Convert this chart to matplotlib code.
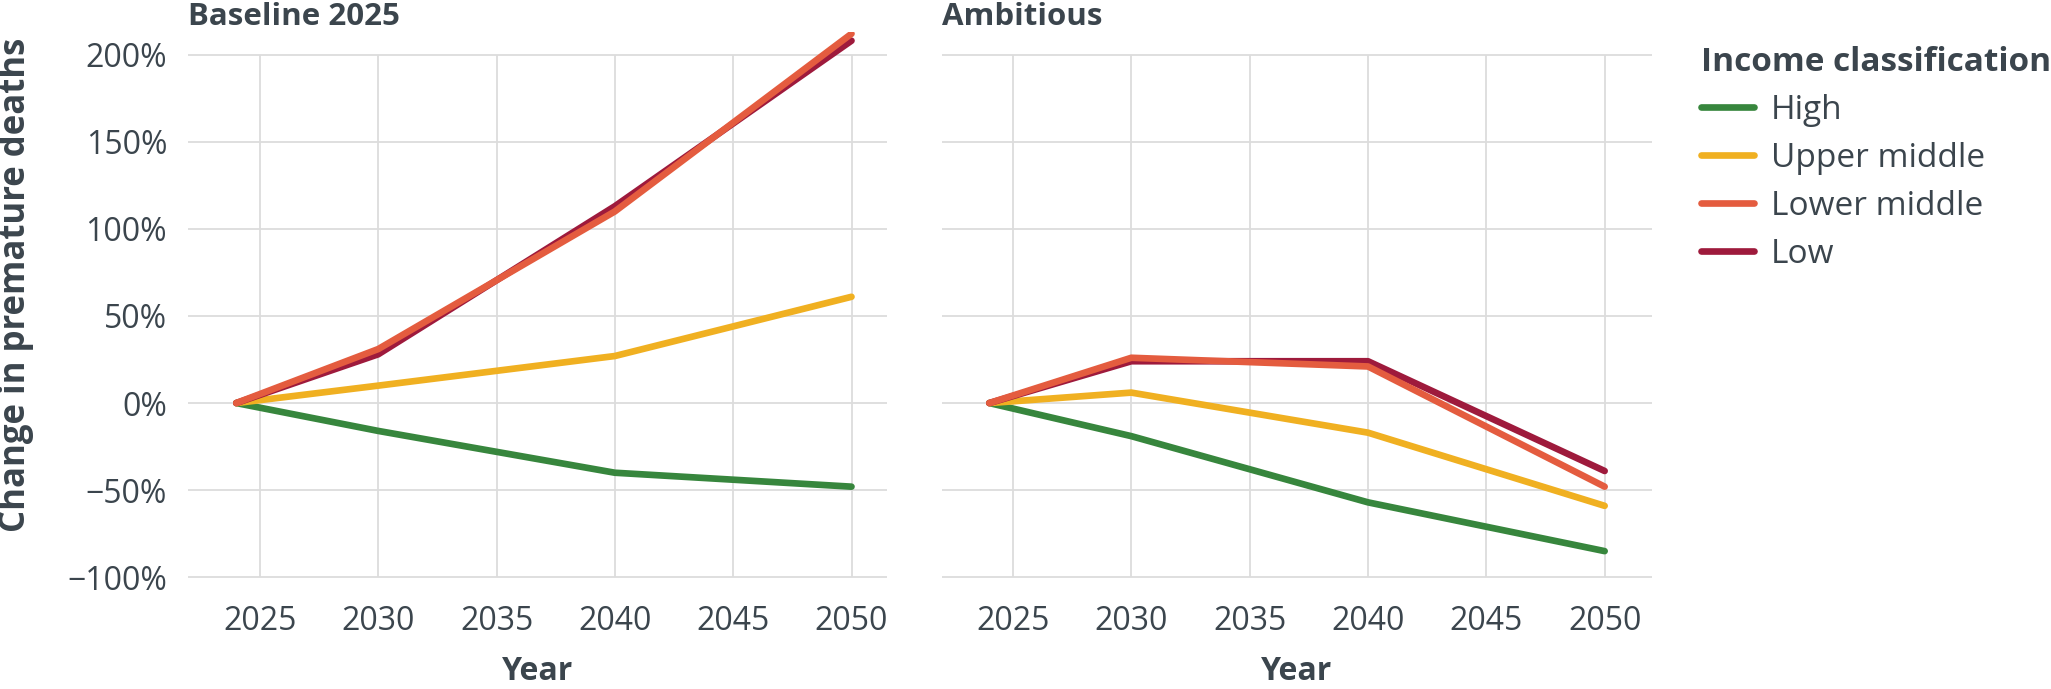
import numpy as np
import matplotlib
matplotlib.use("Agg")
import matplotlib.pyplot as plt
from matplotlib.ticker import FuncFormatter

plt.rcParams['font.family'] = ['Open Sans', 'DejaVu Sans']

# data (percent change vs 2024)
years = [2024, 2030, 2040, 2050]
groups = ['High', 'Upper middle', 'Lower middle', 'Low']
colours = ['#37863d', '#f0b021', '#e45c3f', '#9e1a3c']
zorders = [2, 3, 5, 4]   # lower middle sits on top of low

baseline_high = [0, -16, -40, -48]
baseline_upper = [0, 10, 27, 61]
baseline_lower = [0, 31, 110, 212]
baseline_low = [0, 28, 113, 208]

ambitious_high = [0, -19, -57, -85]
ambitious_upper = [0, 6, -17, -59]
ambitious_lower = [0, 26, 21, -48]
ambitious_low = [0, 24, 24, -39]

panels = {
    'Baseline 2025': [baseline_high, baseline_upper, baseline_lower, baseline_low],
    'Ambitious': [ambitious_high, ambitious_upper, ambitious_lower, ambitious_low],
}

xticks = [2025, 2030, 2035, 2040, 2045, 2050]
yticks = [-100, -50, 0, 50, 100, 150, 200]

text_col = '#3b454d'
grid_col = '#dcdcdc'

W, H = 2051, 689
fig = plt.figure(figsize=(W / 100, H / 100), dpi=100)

# pixel boxes of the two panels (left, right), and their x ranges
top_px, bot_px = 32, 579
boxes = [(188, 887), (942, 1652)]
xlims = [(2021.96, 2051.5), (2022.0, 2052.0)]

axes = []
for i, (title, series) in enumerate(panels.items()):
    l, r = boxes[i]
    ax = fig.add_axes([l / W, 1 - bot_px / H, (r - l) / W, (bot_px - top_px) / H])
    axes.append(ax)
    x0, x1 = xlims[i]
    ax.set_xlim(x0, x1)
    ax.set_ylim(-101, 213)
    # grid
    ax.hlines(yticks, x0, x1, color=grid_col, lw=1.3, zorder=0)
    ax.vlines(xticks, -100, 200, color=grid_col, lw=1.3, zorder=0)
    for vals, name, c, z in zip(series, groups, colours, zorders):
        ax.plot(years, vals, color=c, lw=4.8, label=name, zorder=z,
                solid_capstyle='round', solid_joinstyle='round')
    for s in ax.spines.values():
        s.set_visible(False)
    ax.set_xticks(xticks)
    ax.set_yticks(yticks)
    ax.tick_params(axis='both', length=0, labelsize=23, colors=text_col)
    ax.tick_params(axis='y', pad=15)
    ax.tick_params(axis='x', pad=19)
    ax.yaxis.set_major_formatter(FuncFormatter(lambda v, p: f'{int(v)}%'.replace('-', '\u2212')))
    if i == 1:
        ax.set_yticklabels([])
    ax.text(0.0, 1.013, title, transform=ax.transAxes, ha='left', va='baseline',
            fontsize=22.5, fontweight='bold', color=text_col)
    fig.text((l + r) / 2 / W, 0.002, 'Year', ha='center', va='bottom',
             fontsize=23, fontweight='bold', color=text_col)

fig.text(16 / W, 1 - 285 / H, 'Change in premature deaths', rotation=90,
         ha='center', va='center', fontsize=25, fontweight='bold', color=text_col)

handles, labels = axes[1].get_legend_handles_labels()
leg = fig.legend(handles, labels, title='Income classification',
                 loc='upper left', bbox_to_anchor=(1701 / W, 1 - 46 / H), frameon=False,
                 fontsize=24, title_fontsize=24, handlelength=1.6, handletextpad=0.5,
                 borderpad=0, borderaxespad=0, labelspacing=0.45, alignment='left')
leg.get_title().set_fontweight('bold')
leg.get_title().set_color(text_col)
for t in leg.get_texts():
    t.set_color(text_col)

fig.savefig('out.png', dpi=100)
